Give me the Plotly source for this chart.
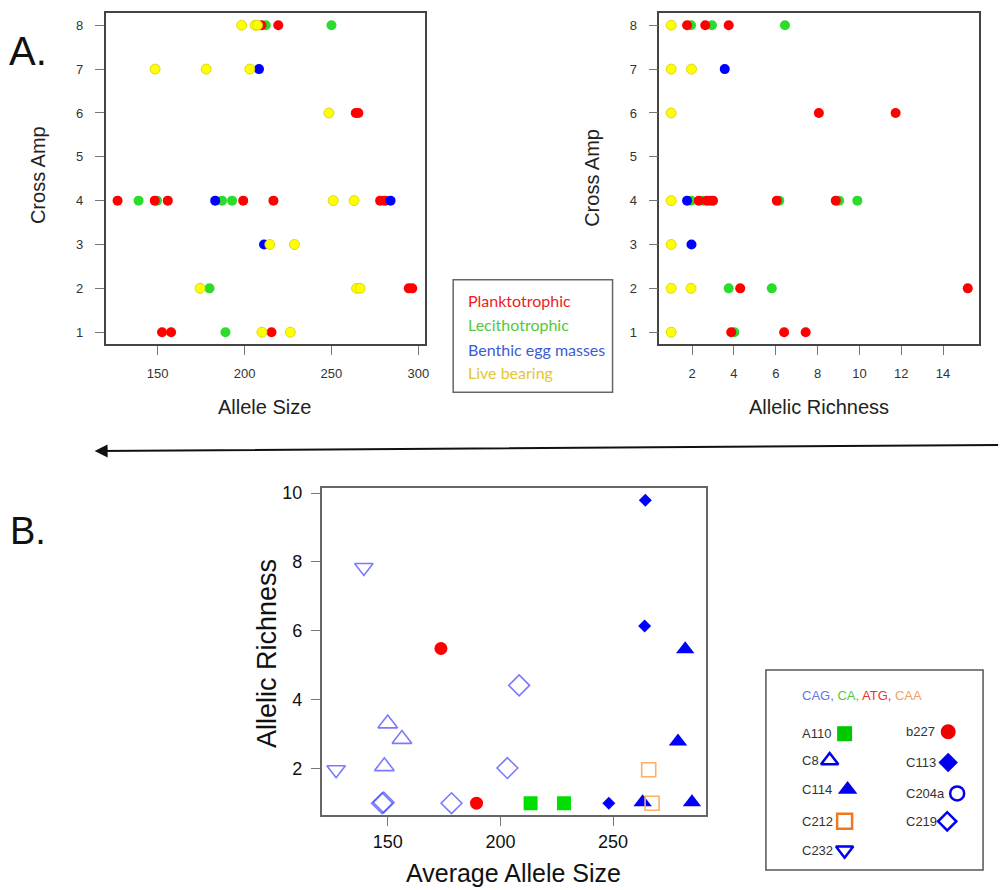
import plotly.graph_objects as go

W, H = 1000, 890

# ---------------- Panel A data ----------------
amp_ticks = [1, 2, 3, 4, 5, 6, 7, 8]
size_ticks = [150, 200, 250, 300]
rich_ticks = [2, 4, 6, 8, 10, 12, 14]

# Allele size (left panel)
plank_size = [209.7, 219.4, 264.0, 265.5, 126.9, 148.3, 155.8, 199.2, 216.6, 278.0, 281.0, 294.5, 296.5, 152.5, 157.7, 215.5]
plank_size_amp = [8, 8, 6, 6, 4, 4, 4, 4, 4, 4, 4, 2, 2, 1, 1, 1]
lecith_size = [212.2, 250.0, 139.0, 149.6, 187.0, 192.8, 280.0, 179.8, 189.0]
lecith_size_amp = [8, 8, 4, 4, 4, 4, 4, 2, 1]
benthic_size = [208.3, 183.1, 284.0, 211.2]
benthic_size_amp = [7, 4, 4, 3]
live_size = [198.3, 206.0, 207.5, 148.5, 177.9, 203.0, 248.5, 251.0, 263.0, 214.5, 228.7, 174.4, 264.5, 266.5, 210.0, 226.3]
live_size_amp = [8, 8, 8, 7, 7, 7, 6, 4, 4, 3, 3, 2, 2, 2, 1, 1]

# Allelic richness (right panel)
plank_rich = [1.76, 2.63, 3.75, 8.06, 11.73, 2.32, 2.71, 2.87, 3.0, 6.05, 8.87, 4.3, 15.18, 3.87, 6.4, 7.43]
plank_rich_amp = [8, 8, 8, 6, 6, 4, 4, 4, 4, 4, 4, 2, 2, 1, 1, 1]
lecith_rich = [1.95, 2.95, 6.44, 1.95, 2.52, 6.17, 9.03, 9.9, 3.75, 5.81, 4.02]
lecith_rich_amp = [8, 8, 8, 4, 4, 4, 4, 4, 2, 2, 1]
benthic_rich = [3.56, 1.76, 1.97]
benthic_rich_amp = [7, 4, 3]
live_rich = [1.0, 1.0, 1.97, 1.0, 1.0, 1.0, 1.0, 1.95, 1.0]
live_rich_amp = [8, 7, 7, 6, 4, 3, 2, 2, 1]

life_names = ["Planktotrophic", "Lecithotrophic", "Benthic egg masses", "Live bearing"]
life_text_colors = ["#EE1C1C", "#55C83A", "#3A5CD6", "#E6C533"]

# ---------------- Panel B data ----------------
avg_ticks = [150, 200, 250]
ar_ticks = [2, 4, 6, 8, 10]

c232_x = [127.1, 139.4]
c232_y = [1.97, 7.84]
c8_x = [150.0, 156.3, 148.5]
c8_y = [3.31, 2.86, 2.07]
c219_x = [147.5, 148.2, 178.3, 203.1, 208.3]
c219_y = [1.0, 1.02, 1.0, 2.02, 4.42]
b227_x = [173.6, 189.4]
b227_y = [5.49, 1.0]
a110_x = [213.4, 228.2]
a110_y = [1.0, 1.0]
c113_x = [248.1, 264.0, 264.3]
c113_y = [1.0, 6.14, 9.79]
c114_x = [263.1, 278.8, 282.0, 285.0]
c114_y = [1.03, 2.79, 5.47, 1.03]
c212_x = [265.8, 267.3]
c212_y = [1.97, 1.0]

loci_left = ["A110", "C8", "C114", "C212", "C232"]
loci_right = ["b227", "C113", "C204a", "C219"]

# ---------------- helpers ----------------
def xd(a, b):
    return [a / W, b / W]

def yd(top, bottom):
    return [1 - bottom / H, 1 - top / H]

def px(x):
    return x / W

def py(y):
    return 1 - y / H

FONT = "Liberation Sans"

fig = go.Figure()

# top panels
RED, GREEN, BLUE, YELLOW = "#FF0000", "#2CDC2C", "#0000FF", "#FFFF00"
groups_size = [
    (lecith_size, lecith_size_amp, GREEN),
    (plank_size, plank_size_amp, RED),
    (benthic_size, benthic_size_amp, BLUE),
    (live_size, live_size_amp, YELLOW),
]
groups_rich = [
    (lecith_rich, lecith_rich_amp, GREEN),
    (plank_rich, plank_rich_amp, RED),
    (benthic_rich, benthic_rich_amp, BLUE),
    (live_rich, live_rich_amp, YELLOW),
]
for (xs, ys, c) in groups_size:
    fig.add_trace(go.Scatter(x=xs, y=ys, mode="markers", xaxis="x", yaxis="y",
                             marker=dict(size=10, color=c,
                                         line=dict(width=0.8 if c == YELLOW else 0, color="#CFCF00"))))
for (xs, ys, c) in groups_rich:
    fig.add_trace(go.Scatter(x=xs, y=ys, mode="markers", xaxis="x2", yaxis="y2",
                             marker=dict(size=10, color=c,
                                         line=dict(width=0.8 if c == YELLOW else 0, color="#CFCF00"))))

# bottom panel
OPEN_BLUE = "rgba(70,70,255,0.72)"
bottom_series = [
    (c232_x, c232_y, "triangle-down-open", OPEN_BLUE, 16, 1.6),
    (c8_x, c8_y, "triangle-up-open", OPEN_BLUE, 17, 1.6),
    (c219_x, c219_y, "diamond-open", OPEN_BLUE, 16, 1.6),
    (b227_x, b227_y, "circle", "#FF0000", 13, 0),
    (a110_x, a110_y, "square", "#00E000", 14, 0),
    (c113_x, c113_y, "diamond", "#0000FF", 10, 0),
    (c114_x, c114_y, "triangle-up", "#0000FF", 16, 0),
    (c212_x, c212_y, "square-open", "#FFB060", 14, 1.6),
]
for (xs, ys, sym, c, s, lw) in bottom_series:
    fig.add_trace(go.Scatter(x=xs, y=ys, mode="markers", xaxis="x3", yaxis="y3",
                             marker=dict(symbol=sym, size=s, color=c,
                                         line=dict(width=lw, color=c))))

# legend keys for panel B on a pixel overlay axis
key_left_xs = [848, 833, 851, 848, 848]
key_left_y = [733, 760, 789, 821, 850]
key_right_y = [731, 762, 793, 821]
key_right_xs = [952, 952, 961, 951]
key_left_style = [("square", "#00C800", 15, 0), ("triangle-up-open", "#0000EE", 15, 2.5),
                  ("triangle-up", "#0000EE", 17, 0), ("square-open", "#F07820", 15, 2.5),
                  ("triangle-down-open", "#0000EE", 15, 2.5)]
key_right_style = [("circle", "#EE0000", 15, 0), ("diamond", "#0000EE", 15, 0),
                   ("circle-open", "#0000EE", 14, 2.5), ("diamond-open", "#0000EE", 14, 2.5)]
for i, (sym, c, s, lw) in enumerate(key_left_style):
    fig.add_trace(go.Scatter(x=[key_left_xs[i]], y=[key_left_y[i]], mode="markers", xaxis="x4", yaxis="y4",
                             marker=dict(symbol=sym, size=s, color=c, line=dict(width=lw, color=c))))
for i, (sym, c, s, lw) in enumerate(key_right_style):
    fig.add_trace(go.Scatter(x=[key_right_xs[i]], y=[key_right_y[i]], mode="markers", xaxis="x4", yaxis="y4",
                             marker=dict(symbol=sym, size=s, color=c, line=dict(width=lw, color=c))))

top_axis = dict(showline=True, mirror=True, linecolor="#444", linewidth=1.5,
                ticks="outside", ticklen=9, tickwidth=1, tickcolor="#777",
                showgrid=False, zeroline=False,
                tickfont=dict(size=13, color="#333", family=FONT))
bot_axis = dict(showline=True, mirror=True, linecolor="#666", linewidth=1.5,
                ticks="outside", ticklen=9, tickwidth=1, tickcolor="#777",
                showgrid=False, zeroline=False,
                tickfont=dict(size=18, color="#111", family=FONT))

fig.update_layout(
    width=W, height=H, autosize=False,
    margin=dict(l=0, r=0, t=0, b=0),
    paper_bgcolor="white", plot_bgcolor="rgba(0,0,0,0)",
    showlegend=False, hovermode=False,
    xaxis=dict(domain=xd(106, 427), range=[120, 304], tickvals=size_ticks,
               ticklabelstandoff=7, anchor="y", **top_axis),
    yaxis=dict(domain=yd(9, 342), range=[0.72, 8.28], tickvals=amp_ticks,
               ticklabelstandoff=9, anchor="x", **top_axis),
    xaxis2=dict(domain=xd(662, 983), range=[0.434, 15.72], tickvals=rich_ticks,
                ticklabelstandoff=7, anchor="y2", **top_axis),
    yaxis2=dict(domain=yd(9, 342), range=[0.72, 8.28], tickvals=amp_ticks,
                ticklabelstandoff=9, anchor="x2", **top_axis),
    xaxis3=dict(domain=xd(323, 709), range=[120.7, 291.3], tickvals=avg_ticks,
                ticklabelstandoff=0, anchor="y3", **bot_axis),
    yaxis3=dict(domain=yd(486, 815), range=[0.648, 10.152], tickvals=ar_ticks,
                ticklabelstandoff=5, anchor="x3", **bot_axis),
    xaxis4=dict(domain=[0, 1], range=[0, W], visible=False, anchor="y4"),
    yaxis4=dict(domain=[0, 1], range=[H, 0], visible=False, anchor="x4"),
)

ann = []
def text(x, y, t, size, color="#222", angle=0, family=FONT, xanchor="center"):
    ann.append(dict(x=px(x), y=py(y), xref="paper", yref="paper", text=t, showarrow=False,
                    textangle=angle, xanchor=xanchor, yanchor="middle",
                    font=dict(size=size, color=color, family=family)))

text(28, 47, "A.", 40, "#111")
text(28, 529, "B.", 38, "#111")
text(38, 172, "Cross Amp", 20, angle=-90)
text(595, 175, "Cross Amp", 20, angle=-90)
text(266, 405, "Allele Size", 20)
text(822, 405, "Allelic Richness", 20)
text(268, 652, "Allelic Richness", 27, "#111", angle=-90)
text(516, 873, "Average Allele Size", 25, "#111")

# top legend
leg_y = [298, 322, 347, 370]
for i, name in enumerate(life_names):
    text(468, leg_y[i], name, 16, life_text_colors[i], family="Lato", xanchor="left")

# bottom legend
title_parts = [("CAG, ", "#5A78F0"), ("CA, ", "#55C83A"), ("ATG, ", "#F03030"), ("CAA", "#F5A060")]
title_html = "".join(f'<span style="color:{c}">{t}</span>' for t, c in title_parts)
text(803, 695, title_html, 13, xanchor="left")
for i, name in enumerate(loci_left):
    text(803, key_left_y[i], name, 13, "#333", xanchor="left")
for i, name in enumerate(loci_right):
    text(908, key_right_y[i], name, 13, "#333", xanchor="left")

# arrow
ann.append(dict(x=px(95), y=py(449), xref="paper", yref="paper", text="", showarrow=True,
                ax=905, ay=-6, axref="pixel", ayref="pixel", arrowhead=2, arrowsize=1.3,
                arrowwidth=2, arrowcolor="#111"))

fig.update_layout(annotations=ann)

fig.add_shape(type="rect", xref="paper", yref="paper",
              x0=px(455), x1=px(615), y0=py(390), y1=py(277),
              line=dict(color="#666", width=1.5))
fig.add_shape(type="rect", xref="paper", yref="paper",
              x0=px(769), x1=px(987), y0=py(870), y1=py(669),
              line=dict(color="#555", width=1.5))

fig.write_html("out.html")
